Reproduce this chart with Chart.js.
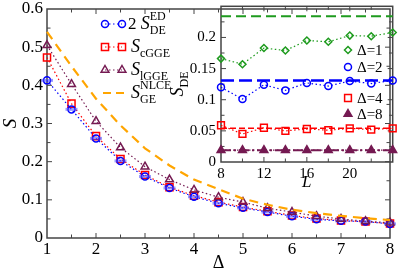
<!DOCTYPE html>
<html lang="en">
<head>
<meta charset="UTF-8">
<title>S vs Delta</title>
<script src="https://cdn.jsdelivr.net/npm/chart.js"></script>
<style>
  body { margin: 0; background: #fff; }
  #wrap { position: relative; width: 399px; height: 274px; }
  #main { position: absolute; left: 0; top: 0; }
  #inset { position: absolute; left: 165px; top: 0; }
</style>
</head>
<body>
<div id="wrap">
  <canvas id="main" width="399" height="274"></canvas>
  <canvas id="inset" width="234" height="193"></canvas>
</div>
<script>
// main panel: entropy vs Delta
const deltas = [1, 1.5, 2, 2.5, 3, 3.5, 4, 4.5, 5, 5.5, 6, 6.5, 7, 7.5, 8];
const sED   = [0.413, 0.337, 0.261, 0.202, 0.161, 0.131, 0.108, 0.091, 0.079, 0.068, 0.057, 0.049, 0.045, 0.043, 0.037];
const sCGGE = [0.473, 0.352, 0.267, 0.207, 0.165, 0.133, 0.111, 0.094, 0.081, 0.070, 0.059, 0.051, 0.046, 0.043, 0.038];
const sLGGE = [0.505, 0.403, 0.306, 0.237, 0.187, 0.153, 0.126, 0.107, 0.094, 0.078, 0.068, 0.057, 0.050, 0.044, 0.040];
const sNLCE = [0.540, 0.450, 0.365, 0.295, 0.235, 0.190, 0.153, 0.128, 0.103, 0.087, 0.074, 0.065, 0.058, 0.052, 0.047];

// inset: S_DE vs system size L
const sizes = [8, 10, 12, 14, 16, 18, 20, 22, 24];
const de1 = [0.166, 0.157, 0.183, 0.179, 0.195, 0.193, 0.203, 0.202, 0.208];
const de2 = [0.120, 0.101, 0.124, 0.115, 0.127, 0.122, 0.130, 0.126, 0.131];
const de4 = [0.059, 0.045, 0.055, 0.050, 0.053, 0.051, 0.054, 0.052, 0.054];
const de8 = [0.019, 0.019, 0.019, 0.019, 0.019, 0.019, 0.019, 0.019, 0.019];
const geLevels = [0.234, 0.131, 0.054, 0.019];
const insetLabels = ['Δ=1', 'Δ=2', 'Δ=4', 'Δ=8'];

const BLUE = '#0000ff', RED = '#ff0000', PURPLE = '#751a52', ORANGE = '#ffa500', GREEN = '#1e9b1e';
const FONT = '"Liberation Serif", "Times New Roman", serif';

Chart.defaults.font.family = FONT;
Chart.defaults.color = '#000';

function pts(xs, ys) {
  return xs.map((x, i) => ({ x: x, y: ys[i] }));
}

function drawMarker(ctx, style, x, y, r, color, fill) {
  ctx.save();
  ctx.strokeStyle = color;
  ctx.fillStyle = color;
  ctx.lineWidth = 1.5;
  ctx.setLineDash([]);
  ctx.beginPath();
  if (style === 'circle') {
    ctx.arc(x, y, r, 0, Math.PI * 2);
  } else if (style === 'rect') {
    const s = r * Math.SQRT1_2;
    ctx.rect(x - s, y - s, 2 * s, 2 * s);
  } else if (style === 'rectRot') {
    ctx.moveTo(x - r, y); ctx.lineTo(x, y - r); ctx.lineTo(x + r, y); ctx.lineTo(x, y + r);
    ctx.closePath();
  } else if (style === 'triangle') {
    ctx.moveTo(x, y - r);
    ctx.lineTo(x + r * 0.866, y + r / 2);
    ctx.lineTo(x - r * 0.866, y + r / 2);
    ctx.closePath();
  }
  if (fill) ctx.fill();
  ctx.stroke();
  ctx.restore();
}

// text with italic S and stacked sub/superscripts
function richText(ctx, x, y, parts) {
  let cx = x;
  for (const p of parts) {
    if (p.sup !== undefined || p.sub !== undefined) {
      ctx.font = '12px ' + FONT;
      let w = 0;
      if (p.sup) { ctx.fillText(p.sup, cx, y - 9); w = Math.max(w, ctx.measureText(p.sup).width); }
      if (p.sub) { ctx.fillText(p.sub, cx, y + 5); w = Math.max(w, ctx.measureText(p.sub).width); }
      cx += w;
    } else {
      ctx.font = (p.it ? 'italic ' : '') + p.size + 'px ' + FONT;
      ctx.fillText(p.t, cx, y);
      cx += ctx.measureText(p.t).width;
    }
  }
  return cx - x;
}

function frameTicks(xMinor, xMajor, yMinor, yMajor) {
  return {
    id: 'frameTicks',
    beforeDatasetsDraw(chart) {
      const { ctx, chartArea: a, scales: { x, y } } = chart;
      ctx.save();
      ctx.strokeStyle = '#444';
      ctx.lineWidth = 1.5;
      ctx.strokeRect(a.left, a.top, a.right - a.left, a.bottom - a.top);
      ctx.lineWidth = 1;
      ctx.beginPath();
      const isMajor = (v, m) => Math.abs(v / m - Math.round(v / m)) < 1e-6;
      for (let v = x.min + xMinor; v < x.max - 1e-9; v += xMinor) {
        const px = x.getPixelForValue(v);
        const len = isMajor(v, xMajor) ? 5 : 3.5;
        ctx.moveTo(px, a.bottom); ctx.lineTo(px, a.bottom - len);
        ctx.moveTo(px, a.top); ctx.lineTo(px, a.top + len);
      }
      for (let v = y.min + yMinor; v < y.max - 1e-9; v += yMinor) {
        const py = y.getPixelForValue(v);
        const len = isMajor(v, yMajor) ? 5 : 3.5;
        ctx.moveTo(a.left, py); ctx.lineTo(a.left + len, py);
        ctx.moveTo(a.right, py); ctx.lineTo(a.right - len, py);
      }
      ctx.stroke();
      ctx.restore();
    }
  };
}

const mainLegend = {
  id: 'mainLegend',
  afterDraw(chart) {
    const ctx = chart.ctx;
    ctx.save();
    ctx.fillStyle = '#000';
    ctx.textBaseline = 'alphabetic';
    const rows = [
      { y: 24, color: BLUE, style: 'circle', r: 3.5,
        parts: [{ t: '2 ', size: 17 }, { t: 'S', size: 18, it: true }, { sup: 'ED', sub: 'DE' }], tx: 128 },
      { y: 47, color: RED, style: 'rect', r: 5,
        parts: [{ t: 'S', size: 18, it: true }, { sub: 'cGGE' }], tx: 131 },
      { y: 70, color: PURPLE, style: 'triangle', r: 4.5,
        parts: [{ t: 'S', size: 18, it: true }, { sub: 'lGGE' }], tx: 131 },
      { y: 93, color: ORANGE, style: null,
        parts: [{ t: 'S', size: 18, it: true }, { sup: 'NLCE', sub: 'GE' }], tx: 131 }
    ];
    for (const r of rows) {
      ctx.save();
      ctx.strokeStyle = r.color;
      ctx.beginPath();
      if (r.style) {
        ctx.lineWidth = 1.2;
        ctx.setLineDash([1.5, 2.5]);
        ctx.moveTo(105, r.y); ctx.lineTo(122, r.y);
        ctx.stroke();
        drawMarker(ctx, r.style, 105, r.y, r.r, r.color, false);
        drawMarker(ctx, r.style, 122, r.y, r.r, r.color, false);
      } else {
        ctx.lineWidth = 2.2;
        ctx.setLineDash([8, 5]);
        ctx.moveTo(103, r.y); ctx.lineTo(124, r.y);
        ctx.stroke();
      }
      ctx.restore();
      richText(ctx, r.tx, r.y + 4.5, r.parts);
    }
    ctx.restore();
  }
};

const dotted = [1.5, 2.5];

new Chart(document.getElementById('main'), {
  type: 'scatter',
  data: {
    datasets: [
      { data: pts(deltas, sNLCE), showLine: true, borderColor: ORANGE, borderWidth: 2.2,
        borderDash: [9, 6], pointRadius: 0, clip: false },
      { data: pts(deltas, sLGGE), showLine: true, borderColor: PURPLE, borderWidth: 1.2,
        borderDash: dotted, pointStyle: 'triangle', pointRadius: 4.5, pointBorderWidth: 1.5,
        pointBackgroundColor: 'rgba(0,0,0,0)', clip: false },
      { data: pts(deltas, sED), showLine: false, borderColor: 'rgba(70,70,255,0.55)',
        pointStyle: 'line', pointRadius: 6, pointBorderWidth: 3, clip: false },
      { data: pts(deltas, sED), showLine: true, borderColor: BLUE, borderWidth: 1.2,
        borderDash: dotted, pointStyle: 'circle', pointRadius: 3.5, pointBorderWidth: 1.5,
        pointBackgroundColor: 'rgba(0,0,0,0)', clip: false },
      { data: pts(deltas, sCGGE), showLine: true, borderColor: RED, borderWidth: 1.2,
        borderDash: dotted, pointStyle: 'rect', pointRadius: 5, pointBorderWidth: 1.5,
        pointBackgroundColor: 'rgba(0,0,0,0)', clip: false }
    ]
  },
  options: {
    responsive: false,
    animation: false,
    layout: { padding: { left: 0, right: 6, top: 7, bottom: 0 } },
    plugins: { legend: { display: false }, tooltip: { enabled: false } },
    scales: {
      x: {
        type: 'linear', min: 1, max: 8,
        grid: { display: false, drawTicks: false }, border: { display: false },
        ticks: { stepSize: 1, autoSkip: false, maxRotation: 0, padding: 1, font: { size: 17 } },
        title: { display: true, text: 'Δ', font: { size: 18 }, padding: 0 },
        afterFit: s => { s.height = 36; s.paddingLeft = 0; s.paddingRight = 0; }
      },
      y: {
        min: 0, max: 0.6,
        grid: { display: false, drawTicks: false }, border: { display: false },
        ticks: { stepSize: 0.1, autoSkip: false, padding: 4, font: { size: 17 },
                 callback: v => String(+v.toFixed(2)) },
        title: { display: true, text: 'S', font: { size: 19, style: 'italic' }, padding: 0 },
        afterFit: s => { s.width = 47; s.paddingTop = 0; s.paddingBottom = 0; }
      }
    }
  },
  plugins: [frameTicks(0.5, 1, 0.05, 0.1), mainLegend]
});

const insetDecor = {
  id: 'insetDecor',
  afterDraw(chart) {
    const ctx = chart.ctx;
    ctx.save();
    ctx.fillStyle = '#000';
    // y title S_DE, rotated
    ctx.translate(12, 84);
    ctx.rotate(-Math.PI / 2);
    ctx.font = 'italic 18px ' + FONT;
    const w = ctx.measureText('S').width;
    ctx.font = '12px ' + FONT;
    const w2 = ctx.measureText('DE').width;
    richText(ctx, -(w + w2) / 2, 6, [{ t: 'S', size: 18, it: true }, { sub: 'DE' }]);
    ctx.restore();

    // legend
    const rows = [
      { y: 50, style: 'rectRot', r: 3.5, color: GREEN, fill: false },
      { y: 67, style: 'circle', r: 3.5, color: BLUE, fill: false },
      { y: 98, style: 'rect', r: 4.8, color: RED, fill: false },
      { y: 114, style: 'triangle', r: 4.5, color: PURPLE, fill: true }
    ];
    ctx.save();
    ctx.fillStyle = '#000';
    ctx.font = '15px ' + FONT;
    ctx.textBaseline = 'middle';
    rows.forEach((r, i) => {
      drawMarker(ctx, r.style, 348 - 165, r.y, r.r, r.color, r.fill);
      ctx.fillStyle = '#000';
      ctx.fillText(insetLabels[i], 357 - 165, r.y + 1);
    });
    ctx.restore();
  }
};

function geLine(level, color, dash, width) {
  return { data: pts([sizes[0], sizes[sizes.length - 1]], [level, level]), showLine: true,
           borderColor: color, borderWidth: width, borderDash: dash, pointRadius: 0, clip: false };
}

function series(ys, color, style, r, fill) {
  return { data: pts(sizes, ys), showLine: true, borderColor: color, borderWidth: 1.2,
           borderDash: dotted, pointStyle: style, pointRadius: r, pointBorderWidth: 1.5,
           pointBackgroundColor: fill ? color : 'rgba(0,0,0,0)', clip: false };
}

new Chart(document.getElementById('inset'), {
  type: 'scatter',
  data: {
    datasets: [
      geLine(geLevels[0], GREEN, [10, 5], 2),
      geLine(geLevels[1], BLUE, [13, 5], 2.5),
      geLine(geLevels[2], RED, [6, 3], 1.5),
      geLine(geLevels[3], PURPLE, [10, 3, 2, 3], 2),
      series(de1, GREEN, 'rectRot', 3.5, false),
      series(de2, BLUE, 'circle', 3.5, false),
      series(de4, RED, 'rect', 4.8, false),
      series(de8, PURPLE, 'triangle', 4.5, true)
    ]
  },
  options: {
    responsive: false,
    animation: false,
    layout: { padding: { left: 0, right: 6, top: 6, bottom: 0 } },
    plugins: { legend: { display: false }, tooltip: { enabled: false } },
    scales: {
      x: {
        type: 'linear', min: 8, max: 24,
        grid: { display: false, drawTicks: false }, border: { display: false },
        ticks: { stepSize: 4, autoSkip: false, maxRotation: 0, padding: 3, font: { size: 15 },
                 callback: v => v >= 24 ? '' : String(v) },
        title: { display: true, text: 'L', font: { size: 17, style: 'italic' }, padding: 0 },
        afterFit: s => { s.height = 31; s.paddingLeft = 0; s.paddingRight = 0; }
      },
      y: {
        min: 0, max: 0.25,
        grid: { display: false, drawTicks: false }, border: { display: false },
        ticks: { stepSize: 0.05, autoSkip: false, padding: 5, font: { size: 15 },
                 callback: v => v > 0.24 ? '' : String(+v.toFixed(2)) },
        afterFit: s => { s.width = 56; s.paddingTop = 0; s.paddingBottom = 0; }
      }
    }
  },
  plugins: [frameTicks(2, 4, 0.025, 0.05), insetDecor]
});
</script>
</body>
</html>
